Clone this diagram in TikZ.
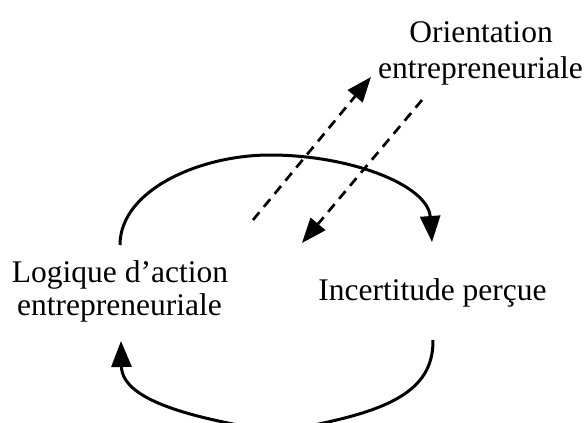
\documentclass[tikz,border=0pt]{standalone}
\usepackage{fontspec}
\setmainfont{Liberation Serif}
\usetikzlibrary{arrows.meta}
\tikzset{
  lbl/.style={anchor=base, inner sep=0pt, font=\fontsize{31.5}{34}\selectfont},
  loop/.style={line width=3pt, -{Triangle[length=26pt,width=20pt]}},
  infl/.style={line width=2.7pt, dash pattern=on 10pt off 7pt, -{Triangle[length=25pt,width=19pt]}}
}
\begin{document}
\begin{tikzpicture}[x=1pt,y=-1pt]
\useasboundingbox (0,0) rectangle (587,423);
\clip (0,0) rectangle (587,423);
% labels
\node[lbl] (or1) at (481,42) {Orientation};
\node[lbl] (or2) at (480.5,78) {entrepreneuriale};
\node[lbl] (lg1) at (120,282) {Logique d’action};
\node[lbl] (lg2) at (119.5,315) {entrepreneuriale};
\node[lbl] (inc) at (432.5,300) {Incertitude perçue};
% anchor points
\coordinate (lgTop) at (120,245);
\coordinate (incTop) at (432,242);
\coordinate (incBot) at (433,340);
\coordinate (lgBot) at (121,341);
\coordinate (d1s) at (253,220);
\coordinate (d1e) at (371,77);
\coordinate (d2s) at (422,100);
\coordinate (d2e) at (302,243);
% top loop
\draw[loop] (lgTop) .. controls (120,190) and (200,155) .. (270,155)
  .. controls (350,155) and (428,185) .. (incTop);
% bottom loop
\draw[loop] (incBot) .. controls (434,400) and (370,415) .. (278,432)
  .. controls (190,418) and (122,400) .. (lgBot);
% dashed influences
\draw[infl] (d1s) -- (d1e);
\draw[infl] (d2s) -- (d2e);
\end{tikzpicture}
\end{document}
